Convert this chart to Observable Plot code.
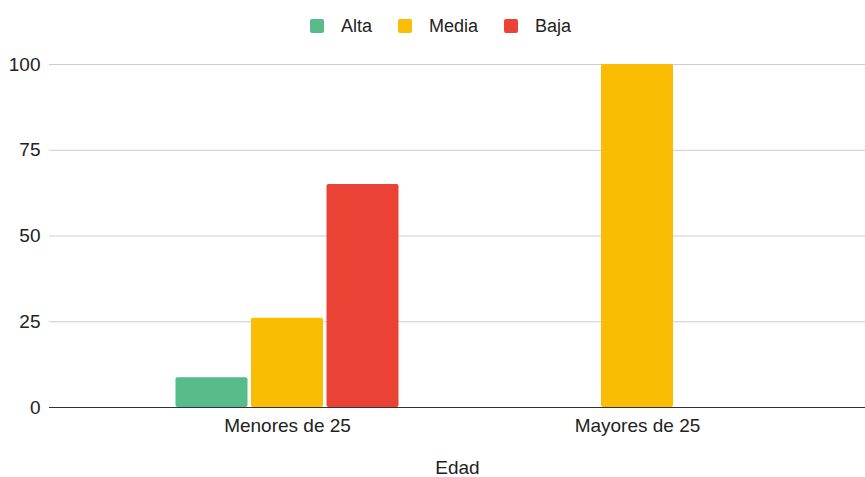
<!DOCTYPE html>
<html>
<head>
<meta charset="utf-8">
<script src="https://cdn.jsdelivr.net/npm/d3@7"></script>
<script src="https://cdn.jsdelivr.net/npm/@observablehq/plot@0.6"></script>
<style>
  body { margin: 0; background: #fff; font-family: "Liberation Sans", Arial, sans-serif; }
  #legend { display: flex; justify-content: center; align-items: center; height: 20px; padding: 16px 0 4px 16px; font-size: 18px; color: #222; }
  .item { display: flex; align-items: center; margin: 0 13px; }
  .sw { width: 14px; height: 14px; border-radius: 2px; margin-right: 17px; }
</style>
</head>
<body>
<div id="legend"></div>
<div id="chart"></div>
<script>
const categories = ["Menores de 25", "Mayores de 25"];
const series = ["Alta", "Media", "Baja"];
const colors = ["#57bb8a", "#fbbc04", "#ea4335"];
const alta = [8.7, 0];
const media = [26, 100];
const baja = [65, 0];
const yTicks = [0, 25, 50, 75, 100];

const values = [alta, media, baja];
const rows = [];
series.forEach((s, j) => categories.forEach((c, i) => rows.push({edad: c, serie: s, valor: values[j][i]})));

const legend = document.getElementById("legend");
series.forEach((s, j) => {
  const it = document.createElement("div");
  it.className = "item";
  it.innerHTML = `<span class="sw" style="background:${colors[j]}"></span><span>${s}</span>`;
  legend.appendChild(it);
});

const offsets = [-75.5, 0, 75.5];
const bars = series.map((s, j) => Plot.barY(rows.filter(d => d.serie === s), {
  x: "edad", y: "valor", fill: colors[j], dx: offsets[j], insetLeft: 139, insetRight: 139, rx: 2
}));

const chart = Plot.plot({
  width: 865,
  height: 437,
  marginLeft: 49,
  marginRight: 0,
  marginTop: 24,
  marginBottom: 70,
  style: { fontSize: "19px", fontFamily: "'Liberation Sans', Arial, sans-serif", color: "#222", background: "#fff" },
  x: { domain: categories, range: [112, 812], padding: 0, tickSize: 0, tickPadding: 11, label: "Edad", labelAnchor: "center", labelOffset: 66 },
  y: { domain: [0, 100], ticks: yTicks, tickSize: 0, tickPadding: 9, label: null },
  marks: [
    Plot.ruleY(yTicks.filter(t => t > 0), { stroke: "#cccccc" }),
    ...bars,
    Plot.ruleY([0], { stroke: "#333333" })
  ]
});
document.getElementById("chart").appendChild(chart);
</script>
</body>
</html>
